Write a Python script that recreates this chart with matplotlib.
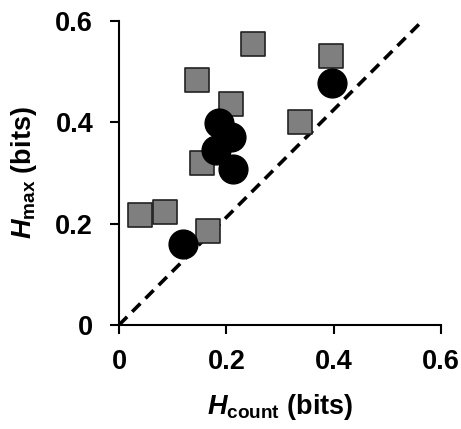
import matplotlib
matplotlib.use("Agg")
import matplotlib.pyplot as plt

# Data
sq_x = [0.040, 0.086, 0.145, 0.249, 0.395, 0.209, 0.337, 0.155, 0.166]
sq_y = [0.217, 0.224, 0.484, 0.554, 0.531, 0.436, 0.401, 0.319, 0.186]
circ_x = [0.119, 0.187, 0.209, 0.180, 0.212, 0.397]
circ_y = [0.160, 0.398, 0.372, 0.345, 0.307, 0.478]
line_x = [0.0, 0.56]
line_y = [0.0, 0.595]
ticks = [0, 0.2, 0.4, 0.6]
tick_labels = ["0", "0.2", "0.4", "0.6"]

plt.rcParams["font.family"] = "Liberation Sans"
plt.rcParams["mathtext.fontset"] = "custom"
plt.rcParams["mathtext.it"] = "Liberation Sans:bold:italic"
plt.rcParams["mathtext.rm"] = "Liberation Sans:bold"
plt.rcParams["mathtext.bf"] = "Liberation Sans:bold"

fig = plt.figure(figsize=(4.61, 4.29), dpi=100)
ax = fig.add_axes([0.258, 0.2424, 0.699, 0.7086])

ax.plot(line_x, line_y, color="black", linestyle=(0, (3.2, 2.0)), linewidth=2.6, zorder=1)
ax.scatter(sq_x, sq_y, marker="s", s=300, color="#7f7f7f", edgecolors="#222222",
           linewidths=1.2, zorder=2)
ax.scatter(circ_x, circ_y, marker="o", s=430, color="black", zorder=3)

ax.set_xlim(0, 0.6)
ax.set_ylim(0, 0.6)
ax.set_xticks(ticks)
ax.set_yticks(ticks)
ax.set_xticklabels(tick_labels, fontsize=19.5, fontweight="bold")
ax.set_yticklabels(tick_labels, fontsize=19.5, fontweight="bold")
ax.tick_params(direction="out", length=6.5, width=1.5)
ax.tick_params(axis="x", pad=11)
ax.tick_params(axis="y", pad=12)

for side in ["top", "right"]:
    ax.spines[side].set_visible(False)
for side in ["left", "bottom"]:
    ax.spines[side].set_linewidth(1.5)

ax.set_xlabel(r"$H_{\mathrm{count}}$ (bits)", fontsize=19.5, fontweight="bold", labelpad=12)
ax.set_ylabel(r"$H_{\mathrm{max}}$ (bits)", fontsize=19.5, fontweight="bold", labelpad=12)

fig.savefig("out.png", dpi=100)
